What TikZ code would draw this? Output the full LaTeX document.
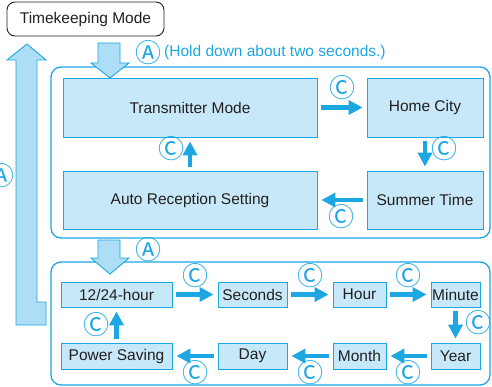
\documentclass[tikz,border=0pt]{standalone}
\usepackage{fontspec}
\setmainfont{Liberation Sans}
\newfontfamily\circfont{Noto Sans CJK JP}
\usetikzlibrary{arrows.meta,positioning}

\definecolor{cyanline}{HTML}{1CA6E2}
\definecolor{boxfill}{HTML}{C6E8F8}
\definecolor{fatfill}{HTML}{AEDEF5}
\definecolor{textgray}{HTML}{231F20}

\tikzset{
  modebox/.style={draw=cyanline, fill=boxfill, text=textgray, line width=0.9pt,
    inner sep=0pt, font=\fontsize{15.5}{17}\selectfont},
  panel/.style={draw=cyanline, line width=1.3pt, rounded corners=10pt},
  fatarrow/.style={draw=cyanline, fill=fatfill, line width=0.9pt, line join=miter},
  stepflow/.style={draw=cyanline, line width=4.5pt, -{Triangle[length=14pt,width=14pt]},
    shorten <=4pt, shorten >=4pt},
  circlab/.style={text=cyanline, inner sep=0pt, anchor=center,
    font=\circfont\fontsize{26}{26}\selectfont}
}

\begin{document}
\begin{tikzpicture}[x=1pt,y=-1pt]
  \clip (0,0) rectangle (492,387);

  % Start mode
  \node[draw=textgray, rounded corners=8pt, line width=0.9pt, text=textgray,
    minimum width=157pt, minimum height=34pt, inner sep=0pt,
    font=\fontsize{15.5}{17}\selectfont] (timekeep) at (85.5,19) {Timekeeping Mode};

  % Panels
  \draw[panel] (51,67) rectangle (490,238);
  \draw[panel] (51,262) rectangle (490,385);

  % Fat arrows
  \draw[fatarrow] (98,43) -- (120,43) -- (120,63) -- (129,63) -- (110,78)
    -- (91,63) -- (98,63) -- cycle;
  \draw[fatarrow] (98,240) -- (120,240) -- (120,258) -- (129,258) -- (110,274)
    -- (91,258) -- (98,258) -- cycle;
  \draw[fatarrow] (27,44) -- (46,60) -- (37,60) -- (37,302) -- (46,302) -- (46,325)
    -- (16,325) -- (16,60) -- (7,60) -- cycle;

  % A labels
  \node[circlab] (aupper) at (148,53) {Ⓐ};
  \node[anchor=west, text=cyanline, inner sep=0pt, font=\fontsize{15.5}{17}\selectfont]
    (holdnote) at (164,52) {(Hold down about two seconds.)};
  \node[circlab] (alower) at (148,250) {Ⓐ};
  \node[circlab] (aback) at (1,176) {Ⓐ};

  % Upper cycle
  \node[modebox, minimum width=254pt, minimum height=59pt] (trans) at (190,107.5) {Transmitter Mode};
  \node[modebox, minimum width=116pt, minimum height=59pt] (homecity) at (425,107.5) {Home City};
  \node[modebox, minimum width=116pt, minimum height=58pt] (summer) at (425,200) {Summer Time};
  \node[modebox, minimum width=254pt, minimum height=58pt] (autorec) at (190,200) {Auto Reception Setting};

  \draw[stepflow] (trans) -- node[circlab, yshift=19.5pt] {Ⓒ} (homecity);
  \draw[stepflow] (homecity) -- node[circlab, xshift=19pt, yshift=5pt] {Ⓒ} (summer);
  \draw[stepflow] (summer) -- node[circlab, xshift=-1pt, yshift=-17pt] {Ⓒ} (autorec);
  \draw[stepflow] (autorec) -- node[circlab, xshift=-18.5pt, yshift=5pt] {Ⓒ} (trans);

  % Lower cycle
  \node[modebox, minimum width=111pt, minimum height=25pt] (hourfmt) at (116.5,294.5) {12/24-hour};
  \node[modebox, minimum width=69pt, minimum height=25pt] (seconds) at (252.5,294.5) {Seconds};
  \node[modebox, minimum width=53pt, minimum height=25pt] (hour) at (359.5,294.5) {Hour};
  \node[modebox, minimum width=49pt, minimum height=25pt] (minute) at (455.5,294.5) {Minute};
  \node[modebox, minimum width=111pt, minimum height=26pt] (powersave) at (116.5,356) {Power Saving};
  \node[modebox, minimum width=69pt, minimum height=26pt] (day) at (252.5,356) {Day};
  \node[modebox, minimum width=53pt, minimum height=26pt] (month) at (359.5,356) {Month};
  \node[modebox, minimum width=49pt, minimum height=26pt] (year) at (455.5,356) {Year};

  \draw[stepflow] (hourfmt) -- node[circlab, yshift=18.5pt] {Ⓒ} (seconds);
  \draw[stepflow] (seconds) -- node[circlab, yshift=18.5pt] {Ⓒ} (hour);
  \draw[stepflow] (hour) -- node[circlab, yshift=18.5pt] {Ⓒ} (minute);
  \draw[stepflow] (minute) -- node[circlab, xshift=22.5pt, yshift=2.5pt] {Ⓒ} (year);
  \draw[stepflow] (year) -- node[circlab, yshift=-17pt] {Ⓒ} (month);
  \draw[stepflow] (month) -- node[circlab, yshift=-17pt] {Ⓒ} (day);
  \draw[stepflow] (day) -- node[circlab, yshift=-17pt] {Ⓒ} (powersave);
  \draw[stepflow] (powersave) -- node[circlab, xshift=-20pt] {Ⓒ} (hourfmt);
\end{tikzpicture}
\end{document}
